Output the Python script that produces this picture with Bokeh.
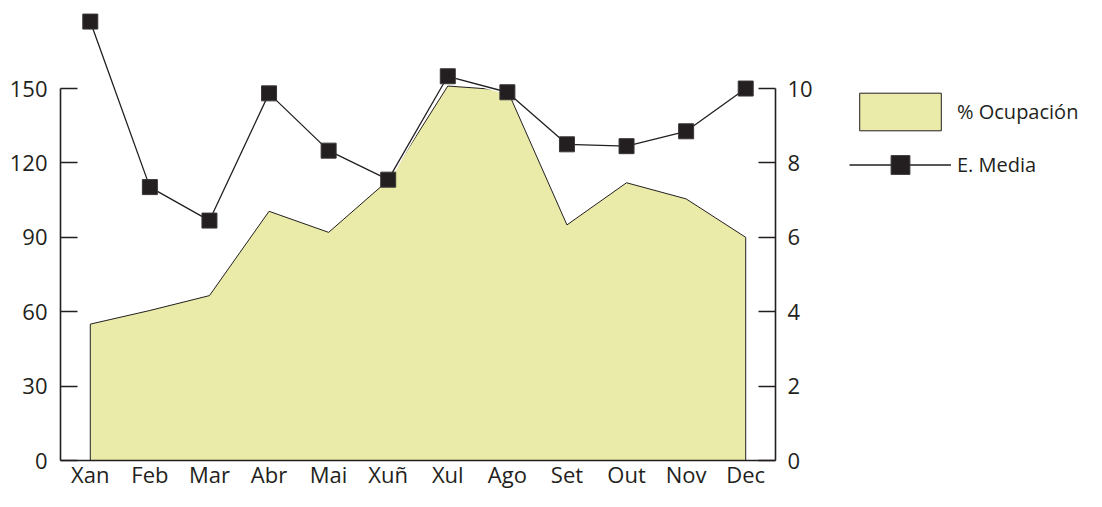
from bokeh.plotting import figure
from bokeh.layouts import row
from bokeh.models import Range1d, LinearAxis, FixedTicker, Legend, LegendItem, ColumnDataSource
from bokeh.embed import file_html
from bokeh.resources import INLINE

months = ["Xan", "Feb", "Mar", "Abr", "Mai", "Xuñ", "Xul", "Ago", "Set", "Out", "Nov", "Dec"]
ocupacion = [55, 60.5, 66.5, 100.5, 92, 113, 151, 149.3, 95, 112, 105.5, 90]
estancia = [11.8, 7.35, 6.45, 9.87, 8.33, 7.55, 10.33, 9.9, 8.5, 8.45, 8.85, 10.0]
left_ticks = [0, 30, 60, 90, 120, 150]
right_ticks = [0, 2, 4, 6, 8, 10]

FONT = "Open Sans"
INK = "#231f20"
FILL = "#eaeba9"

x = list(range(len(months)))
top = 185.5
W_MAIN = 817
H = 491

p = figure(width=W_MAIN, height=H, x_range=Range1d(-0.5, 11.5), y_range=Range1d(0, top),
           output_backend="svg", toolbar_location=None,
           min_border_left=60, min_border_right=42, min_border_top=0, min_border_bottom=31)
p.extra_y_ranges = {"right": Range1d(0, top / 15.0)}
p.outline_line_color = None
p.xgrid.visible = False
p.ygrid.visible = False

area_src = ColumnDataSource(dict(x=[x[0]] + x + [x[-1]], y=[0] + ocupacion + [0]))
p.patch("x", "y", source=area_src, fill_color=FILL, line_color=INK, line_width=1)

src = ColumnDataSource(dict(x=x, y=estancia))
p.line("x", "y", source=src, y_range_name="right", line_color="white", line_width=4)
p.line("x", "y", source=src, y_range_name="right", line_color=INK, line_width=1.3)
p.scatter("x", "y", source=src, y_range_name="right", marker="square", size=15,
          fill_color=INK, line_color="#3a3637", line_width=1)

def style(ax):
    ax.axis_line_color = INK
    ax.axis_line_width = 1.6
    ax.major_tick_line_color = INK
    ax.major_tick_line_width = 1.6
    ax.minor_tick_line_color = None
    ax.major_label_text_font = FONT
    ax.major_label_text_font_size = "22px"
    ax.major_label_text_color = INK

xa = p.xaxis[0]
style(xa)
xa.ticker = FixedTicker(ticks=x)
xa.major_label_overrides = {i: m for i, m in enumerate(months)}
xa.major_tick_in = 0
xa.major_tick_out = 0
xa.major_label_standoff = -2

ya = p.yaxis[0]
style(ya)
ya.ticker = FixedTicker(ticks=left_ticks)
ya.bounds = (0, 150)
ya.major_tick_in = 17
ya.major_tick_out = 0
ya.major_label_standoff = 13

ra = LinearAxis(y_range_name="right")
style(ra)
ra.ticker = FixedTicker(ticks=right_ticks)
ra.bounds = (0, 10)
ra.major_tick_in = 17
ra.major_tick_out = 0
ra.major_label_standoff = 12
p.add_layout(ra, "right")

# legend panel: same data sources, viewed through ranges that keep the marks out of sight
lg = figure(width=1086 - W_MAIN, height=H, x_range=Range1d(-100, -99), y_range=Range1d(-100, -99),
            output_backend="svg", toolbar_location=None,
            min_border_left=0, min_border_right=0, min_border_top=0, min_border_bottom=0)
lg.axis.visible = False
lg.grid.visible = False
lg.outline_line_color = None
l_area = lg.patch("x", "y", source=area_src, fill_color=FILL, line_color=INK, line_width=1)
l_line = lg.line("x", "y", source=src, line_color=INK, line_width=1.3)
l_mark = lg.scatter("x", "y", source=src, marker="square", size=15,
                    fill_color=INK, line_color="#3a3637", line_width=1)

legend = Legend(items=[LegendItem(label="% Ocupación", renderers=[l_area]),
                       LegendItem(label="E. Media", renderers=[l_line, l_mark])],
                location=(32, 272), glyph_width=102, glyph_height=47, spacing=6,
                padding=0, margin=0, border_line_color=None, background_fill_alpha=0,
                label_text_font=FONT, label_text_font_size="20px", label_text_color=INK,
                label_standoff=6)
lg.add_layout(legend, "center")

open("out.html", "w").write(file_html(row(p, lg), INLINE))
